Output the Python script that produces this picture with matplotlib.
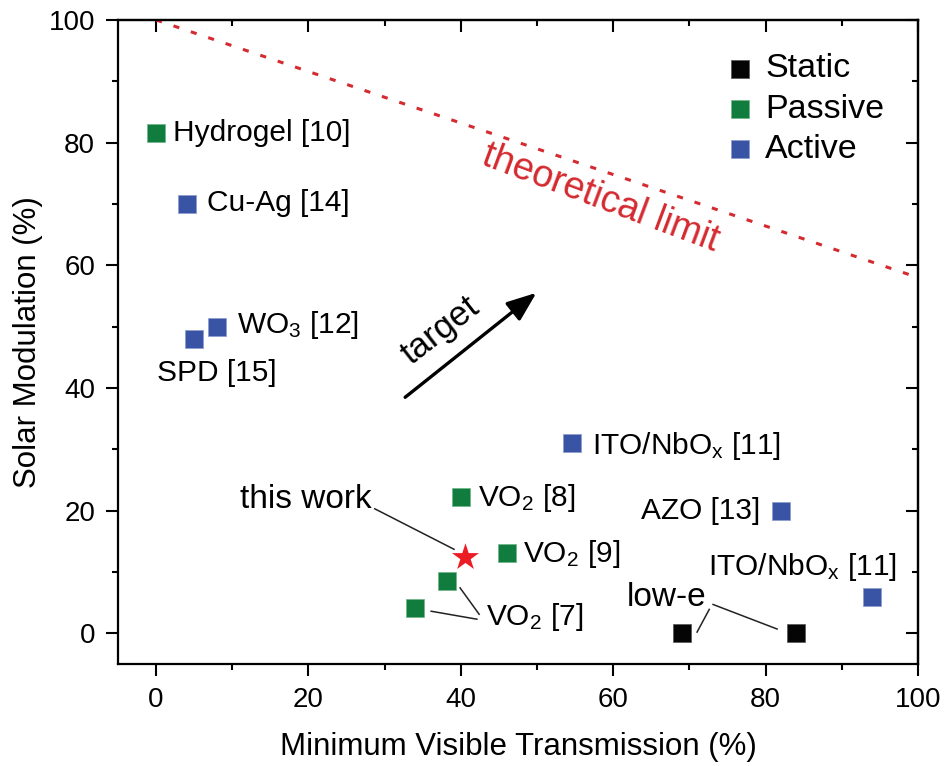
import matplotlib
matplotlib.use('Agg')
import matplotlib.pyplot as plt
import numpy as np

plt.rcParams['font.family'] = ['Liberation Sans', 'DejaVu Sans']
plt.rcParams['mathtext.fontset'] = 'custom'
plt.rcParams['mathtext.rm'] = 'Liberation Sans'
plt.rcParams['mathtext.it'] = 'Liberation Sans:italic'

# data (visible transmission %, solar modulation %)
static_x = [69, 84]
static_y = [0, 0]
passive_x = [0, 40, 46, 38.2, 34]
passive_y = [81.5, 22.2, 13.1, 8.5, 4.1]
active_x = [4, 8, 5, 54.6, 82, 94]
active_y = [70, 50, 48, 31, 20, 6]
this_work = (40.6, 12.4)
limit_x = [0, 100]
limit_y = [100, 58]

c_static = '#050505'
c_passive = '#107c3e'
c_active = '#3953a5'
c_red = '#d42a30'

fig = plt.figure(figsize=(9.44, 7.66), dpi=100)
ax = fig.add_axes([0.125, 0.1332, 0.8475, 0.8407])

ax.plot(limit_x, limit_y, color=c_red, lw=2.2, ls=(0, (2.0, 4.0)), zorder=1)

ms = 185
ax.scatter(static_x, static_y, marker='s', s=ms, color=c_static, edgecolor='#555555', lw=0.5, label='Static', zorder=3)
ax.scatter(passive_x, passive_y, marker='s', s=ms, color=c_passive, edgecolor='#6fb58a', lw=0.5, label='Passive', zorder=3)
ax.scatter(active_x, active_y, marker='s', s=ms, color=c_active, edgecolor='#8c9ccc', lw=0.5, label='Active', zorder=3)
ax.scatter([this_work[0]], [this_work[1]], marker='*', s=420, color='#ec1c24', lw=0, zorder=3)

fs = 21.5
labels = [
    ('Hydrogel [10]', 2.2, 81.5, 'left'),
    ('Cu-Ag [14]', 6.7, 70.2, 'left'),
    (r'WO$_3$ [12]', 10.6, 50.3, 'left'),
    ('SPD [15]', 8, 42.5, 'center'),
    (r'ITO/NbO$_\mathregular{x}$ [11]', 57.2, 30.6, 'left'),
    (r'VO$_2$ [8]', 42.3, 22.0, 'left'),
    (r'VO$_2$ [9]', 48.2, 12.9, 'left'),
    (r'VO$_2$ [7]', 43.3, 2.6, 'left'),
    ('this work', 19.6, 21.8, 'center'),
    ('AZO [13]', 71.5, 20, 'center'),
    (r'ITO/NbO$_\mathregular{x}$ [11]', 84.8, 10.8, 'center'),
    ('low-e', 67, 5.8, 'center'),
]
for txt, x, y, ha in labels:
    size = 24 if txt in ('this work', 'low-e') else fs
    ax.text(x, y, txt, fontsize=size, ha=ha, va='center', zorder=4)

# leader lines
leaders = [
    ((28.7, 39.1), (20.3, 13.7)),
    ((36.1, 42.1), (3.6, 2.3)),
    ((39.9, 42.4), (7.4, 3.1)),
    ((72.6, 71.0), (3.9, 0.2)),
    ((73.1, 81.5), (4.7, 0.7)),
]
for lx, ly in leaders:
    ax.plot(lx, ly, color='#222222', lw=1.1, zorder=2)

ax.annotate('', xy=(50.2, 55.8), xytext=(32.4, 38.2),
            arrowprops=dict(arrowstyle='-|>,head_length=1.8,head_width=0.7', color='black', lw=2.4))
ax.text(37.3, 49.4, 'target', fontsize=25, rotation=38, ha='center', va='center')
ax.text(58.3, 70.9, 'theoretical limit', fontsize=27, color=c_red, rotation=-20.5,
        ha='center', va='center')

ax.legend(loc='upper left', bbox_to_anchor=(0.756, 0.948), frameon=False, fontsize=24.5,
          handlelength=1.0, handletextpad=0.25, labelspacing=0.27, borderaxespad=0.0,
          borderpad=0.0, scatterpoints=1, markerscale=0.9)

ax.set_xlim(-5, 100)
ax.set_ylim(-5, 100)
ax.set_xticks([0, 20, 40, 60, 80, 100])
ax.set_yticks([0, 20, 40, 60, 80, 100])
ax.set_xticks(np.arange(10, 100, 20), minor=True)
ax.set_yticks(np.arange(10, 100, 20), minor=True)
ax.tick_params(which='both', direction='out', width=1.5, labelsize=20, pad=8)
ax.tick_params(which='major', length=8.5)
ax.tick_params(which='minor', length=4.5)

# inward ticks on top and right
sec_x = ax.secondary_xaxis('top')
sec_x.set_xticks([0, 20, 40, 60, 80, 100])
sec_x.set_xticks(np.arange(10, 100, 20), minor=True)
sec_x.tick_params(which='both', direction='in', width=1.5, labeltop=False)
sec_x.tick_params(which='major', length=8.5)
sec_x.tick_params(which='minor', length=4.5)
sec_x.spines['top'].set_linewidth(1.6)
sec_y = ax.secondary_yaxis('right')
sec_y.set_yticks([0, 20, 40, 60, 80, 100])
sec_y.set_yticks(np.arange(10, 100, 20), minor=True)
sec_y.tick_params(which='both', direction='in', width=1.5, labelright=False)
sec_y.tick_params(which='major', length=8.5)
sec_y.tick_params(which='minor', length=4.5)
sec_y.spines['right'].set_linewidth(1.6)

for sp in ax.spines.values():
    sp.set_linewidth(1.6)

ax.set_xlabel('Minimum Visible Transmission (%)', fontsize=22.5, labelpad=14)
ax.set_ylabel('Solar Modulation (%)', fontsize=22.5, labelpad=4)

fig.savefig('out.png', dpi=100)
